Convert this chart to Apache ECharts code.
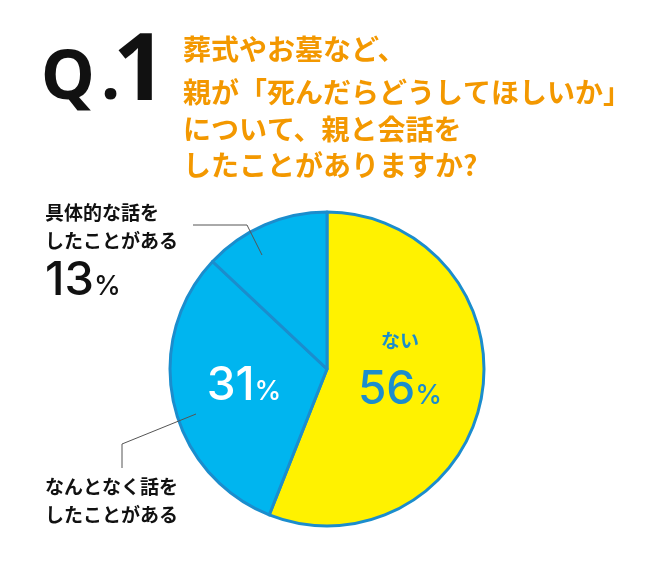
<!DOCTYPE html>
<html>
<head>
<meta charset="utf-8">
<script src="https://cdn.jsdelivr.net/npm/echarts@6/dist/echarts.min.js"></script>
<style>
html,body{margin:0;padding:0;background:#fff;}
#chart{width:650px;height:563px;}
</style>
</head>
<body>
<div id="chart"></div>
<script>
// ---- data ----
const categories = ['ない', 'なんとなく話をしたことがある', '具体的な話をしたことがある'];
const values = [56, 31, 13];
const outerLabels = ['', 'なんとなく話を\nしたことがある', '具体的な話を\nしたことがある'];
const titleLines = ['葬式やお墓など、', '親が「死んだらどうしてほしいか」', 'について、親と会話を', 'したことがありますか?'];
const questionNo = ['Q', '.', '1'];

// ---- styles ----
const sliceColors = ['#fff200', '#00b5ef', '#00b5ef'];
const borderColor = '#1b8dcd';
const orange = '#f39800';
const CJK = '"Noto Sans CJK JP", "Noto Sans", sans-serif';
const NUM = 'Inter, "Noto Sans", sans-serif';
const QF = '"Noto Sans", sans-serif';
const CX = 327, CY = 369, R = 157;

const chart = echarts.init(document.getElementById('chart'), null, {renderer: 'canvas'});

const titleY = [50, 93, 130, 166];
const graphics = titleLines.map((t, i) => ({
  type: 'text', left: 183, top: titleY[i] - 15, silent: true,
  style: {text: t, fill: orange, font: 'bold 28px ' + CJK}
}));
graphics.push(
  {type: 'text', silent: true, x: 41, y: 80, style: {text: questionNo[0], fill: '#111', font: 'bold 68px ' + QF, textVerticalAlign: 'middle'}},
  {type: 'text', silent: true, x: 101, y: 80, style: {text: questionNo[1], fill: '#111', font: 'bold 68px ' + QF, textVerticalAlign: 'middle'}},
  {type: 'text', silent: true, x: 113, y: 73, style: {text: questionNo[2], fill: '#111', font: 'bold 94px ' + QF, textVerticalAlign: 'middle'}}
);

const insideFormat = [
  '{t|' + categories[0] + '}\n{n|' + values[0] + '}{p|%}',
  '{w|' + values[1] + '}{wp|%}',
  ''
];

const outerFormat = [
  '',
  outerLabels[1],
  outerLabels[2] + '\n{big|' + values[2] + '}{pct|%}'
];

const insidePos = [[400, 367], [244, 386], null];
const outerPos = [null, [45, 473], [45, 199]];
const outerLine = [null, [[196, 414], [122, 444], [122, 468]], [[262, 255], [247, 225], [193, 225]]];

const option = {
  backgroundColor: '#fff',
  animation: false,
  graphic: graphics,
  series: [
    {
      type: 'pie',
      center: [CX, CY],
      radius: [0, R],
      startAngle: 90,
      clockwise: true,
      silent: true,
      emphasis: {disabled: true},
      itemStyle: {borderColor: borderColor, borderWidth: 3},
      label: {
        show: true,
        position: 'inside',
        formatter: p => insideFormat[p.dataIndex],
        rich: {
          t: {fontFamily: CJK, fontWeight: 'bold', fontSize: 19, color: '#1b8dcd', lineHeight: 46, align: 'center'},
          n: {fontFamily: NUM, fontWeight: 500, fontSize: 46, color: '#1b8dcd', lineHeight: 52},
          p: {fontFamily: NUM, fontWeight: 500, fontSize: 27, color: '#1b8dcd', lineHeight: 52, padding: [12, 0, 0, 0]},
          w: {fontFamily: NUM, fontWeight: 500, fontSize: 46, color: '#fff', lineHeight: 52},
          wp: {fontFamily: NUM, fontWeight: 500, fontSize: 27, color: '#fff', lineHeight: 52, padding: [12, 0, 0, 0]}
        }
      },
      labelLine: {show: false},
      labelLayout: p => insidePos[p.dataIndex] ? {x: insidePos[p.dataIndex][0], y: insidePos[p.dataIndex][1], align: 'center', verticalAlign: 'middle'} : {},
      data: values.map((v, i) => ({value: v, name: categories[i], itemStyle: {color: sliceColors[i]}, label: {show: i < 2}}))
    },
    {
      type: 'pie',
      center: [CX, CY],
      radius: [0, R],
      startAngle: 90,
      clockwise: true,
      silent: true,
      z: 5,
      emphasis: {disabled: true},
      itemStyle: {color: 'transparent', borderWidth: 0},
      label: {
        show: true,
        position: 'outside',
        overflow: 'none',
        width: 300,
        formatter: p => outerFormat[p.dataIndex],
        fontFamily: CJK, fontWeight: 'bold', fontSize: 19, lineHeight: 28, color: '#111',
        align: 'left',
        rich: {
          big: {fontFamily: NUM, fontWeight: 500, fontSize: 47, color: '#111', lineHeight: 52},
          pct: {fontFamily: NUM, fontWeight: 500, fontSize: 27, color: '#111', lineHeight: 52, padding: [12, 0, 0, 0]}
        }
      },
      labelLine: {show: true, lineStyle: {color: '#555', width: 1}},
      labelLayout: p => outerPos[p.dataIndex] ? {
        x: outerPos[p.dataIndex][0], y: outerPos[p.dataIndex][1],
        align: 'left', verticalAlign: 'top',
        labelLinePoints: outerLine[p.dataIndex]
      } : {},
      data: values.map((v, i) => ({value: v, name: categories[i], label: {show: i > 0}, labelLine: {show: i > 0}}))
    }
  ]
};
chart.setOption(option);
</script>
</body>
</html>
